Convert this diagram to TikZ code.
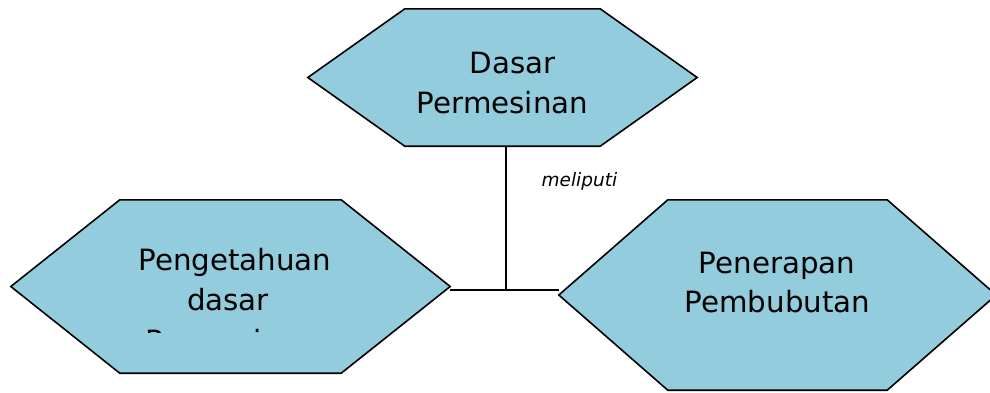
\documentclass[tikz,border=0pt]{standalone}
\usepackage{fontspec}
\setmainfont{DejaVu Sans}
\usetikzlibrary{calc}
\definecolor{hexblue}{RGB}{147,205,221}

\begin{document}
\begin{tikzpicture}[x=1pt,y=-1pt,
    box/.style={inner sep=0pt},
    hex/.style={fill=hexblue,draw=black,line width=1.6pt,line join=miter},
    lbl/.style={anchor=base,inner sep=0pt,font=\fontsize{29.3}{40}\selectfont},
    link/.style={draw=black,line width=1.8pt}]
    \useasboundingbox (0,0) rectangle (990,392);

    % outline boxes of the three hexagons
    \node[box,minimum width=389pt,minimum height=137pt] (dasar) at (502.5,77.5) {};
    \node[box,minimum width=439pt,minimum height=173pt] (pengetahuan) at (230.5,286.5) {};
    \node[box,minimum width=437pt,minimum height=190pt] (penerapan) at (777.5,295) {};

    \foreach \n/\d in {dasar/97,pengetahuan/109,penerapan/109}
        \filldraw[hex] (\n.west) -- ($(\n.north west)+(\d,0)$) -- ($(\n.north east)+(-\d,0)$)
            -- (\n.east) -- ($(\n.south east)+(-\d,0)$) -- ($(\n.south west)+(\d,0)$) -- cycle;

    % texts
    \node[lbl] (dasarA) at (512.5,73.5) {Dasar};
    \node[lbl] (dasarB) at (502.5,113) {Permesinan};
    \node[lbl] (pengA) at (235,270) {Pengetahuan};
    \node[lbl] (pengB) at (228,310) {dasar};
    \begin{scope}
        \clip (100,300) rectangle (380,332.5);
        \node[lbl] (pengC) at (231,351.5) {Permesinan};
    \end{scope}
    \node[lbl] (penA) at (777,273) {Penerapan};
    \node[lbl] (penB) at (777.5,312) {Pembubutan};

    % connectors
    \coordinate (junction) at (506,290);
    \draw[link] (dasar.south -| junction) -- (junction);
    \draw[link] (pengetahuan.east |- junction) -- (penerapan.west |- junction);
    \node[anchor=base west,inner sep=0pt,font=\itshape\fontsize{18.5}{22}\selectfont] (meliputi) at (541.5,186.5) {meliputi};
\end{tikzpicture}
\end{document}
